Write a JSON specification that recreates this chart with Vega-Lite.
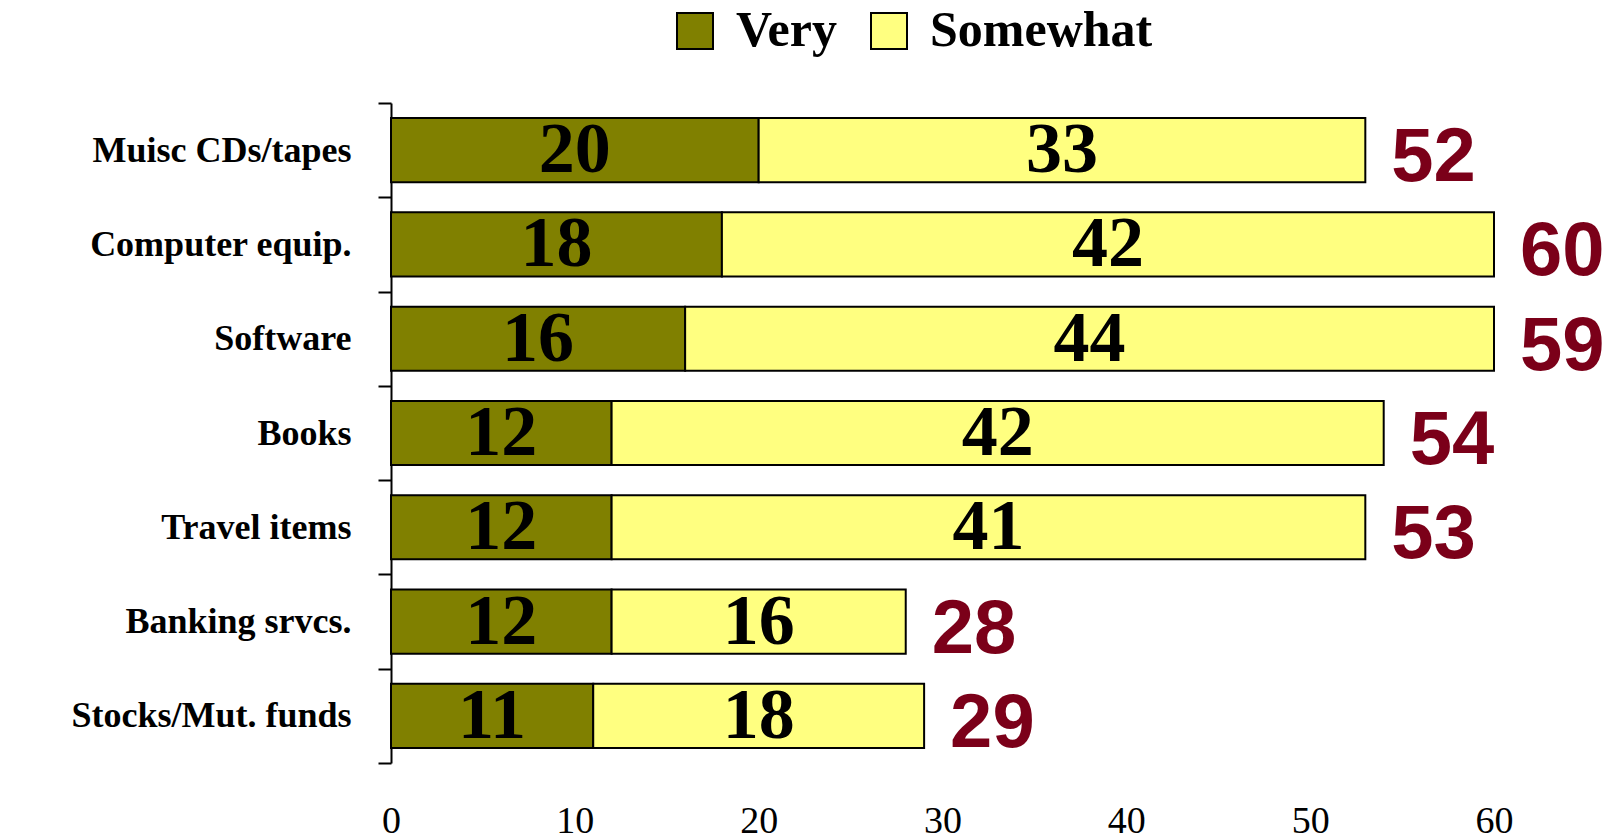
{
  "$schema": "https://vega.github.io/schema/vega-lite/v6.json",
  "autosize": {"type": "none"},
  "width": 1103,
  "height": 660,
  "padding": {"left": 391, "top": 103, "right": 122, "bottom": 76},
  "background": "white",
  "config": {"view": {"stroke": null}},
  "data": {
    "values": [
      {"category": "Muisc CDs/tapes", "series": "Very", "value": 20, "total": 52},
      {"category": "Muisc CDs/tapes", "series": "Somewhat", "value": 33, "total": 52},
      {"category": "Computer equip.", "series": "Very", "value": 18, "total": 60},
      {"category": "Computer equip.", "series": "Somewhat", "value": 42, "total": 60},
      {"category": "Software", "series": "Very", "value": 16, "total": 59},
      {"category": "Software", "series": "Somewhat", "value": 44, "total": 59},
      {"category": "Books", "series": "Very", "value": 12, "total": 54},
      {"category": "Books", "series": "Somewhat", "value": 42, "total": 54},
      {"category": "Travel items", "series": "Very", "value": 12, "total": 53},
      {"category": "Travel items", "series": "Somewhat", "value": 41, "total": 53},
      {"category": "Banking srvcs.", "series": "Very", "value": 12, "total": 28},
      {"category": "Banking srvcs.", "series": "Somewhat", "value": 16, "total": 28},
      {"category": "Stocks/Mut. funds", "series": "Very", "value": 11, "total": 29},
      {"category": "Stocks/Mut. funds", "series": "Somewhat", "value": 18, "total": 29}
    ]
  },
  "transform": [
    {"stack": "value", "groupby": ["category"], "sort": [{"field": "series", "order": "descending"}], "as": ["v0", "v1"]},
    {"calculate": "(datum.v0 + datum.v1) / 2", "as": "mid"}
  ],
  "encoding": {
    "y": {
      "field": "category",
      "type": "nominal",
      "sort": ["Muisc CDs/tapes", "Computer equip.", "Software", "Books", "Travel items", "Banking srvcs.", "Stocks/Mut. funds"],
      "scale": {"paddingInner": 0, "paddingOuter": 0},
      "title": null,
      "axis": {
        "domain": true,
        "domainColor": "black",
        "domainWidth": 2,
        "ticks": true,
        "tickBand": "extent",
        "tickSize": 13,
        "tickWidth": 2,
        "tickColor": "black",
        "labelFont": "Liberation Serif",
        "labelFontWeight": "bold",
        "labelFontSize": 36,
        "labelColor": "black",
        "labelPadding": 27,
        "labelLimit": 400,
        "grid": false
      }
    }
  },
  "layer": [
    {
      "mark": {"type": "bar", "stroke": "black", "strokeWidth": 2, "height": {"band": 0.68}},
      "encoding": {
        "x": {
          "field": "v0",
          "type": "quantitative",
          "scale": {"domain": [0, 60], "nice": false},
          "title": null,
          "axis": {
            "values": [0, 10, 20, 30, 40, 50, 60],
            "domain": false,
            "ticks": false,
            "tickSize": 0,
            "grid": false,
            "labelFlush": false,
            "labelFont": "Liberation Serif",
            "labelFontSize": 38,
            "labelColor": "black",
            "labelPadding": 39
          }
        },
        "x2": {"field": "v1"},
        "fill": {
          "field": "series",
          "type": "nominal",
          "scale": {"domain": ["Very", "Somewhat"], "range": ["#808000", "#FFFF80"]},
          "legend": {
            "orient": "none",
            "legendX": 279,
            "legendY": -97,
            "direction": "horizontal",
            "title": null,
            "symbolType": "square",
            "symbolSize": 1296,
            "symbolStrokeColor": "black",
            "symbolStrokeWidth": 2,
            "symbolOpacity": 1,
            "labelFont": "Liberation Serif",
            "labelFontWeight": "bold",
            "labelFontSize": 50,
            "labelColor": "black",
            "labelOffset": 16,
            "columnPadding": 27,
            "padding": 0,
            "labelLimit": 400
          }
        }
      }
    },
    {
      "mark": {"type": "text", "font": "Liberation Serif", "fontWeight": "bold", "fontSize": 72, "baseline": "middle", "align": "center", "color": "black", "dy": 0},
      "encoding": {
        "x": {"field": "mid", "type": "quantitative"},
        "text": {"field": "value", "type": "quantitative"}
      }
    },
    {
      "transform": [{"filter": "datum.series === 'Somewhat'"}],
      "mark": {"type": "text", "font": "Liberation Sans", "fontWeight": "bold", "fontSize": 76, "baseline": "middle", "align": "left", "color": "#7B0019", "dx": 26, "dy": 8},
      "encoding": {
        "x": {"field": "v1", "type": "quantitative"},
        "text": {"field": "total", "type": "quantitative"}
      }
    }
  ]
}
